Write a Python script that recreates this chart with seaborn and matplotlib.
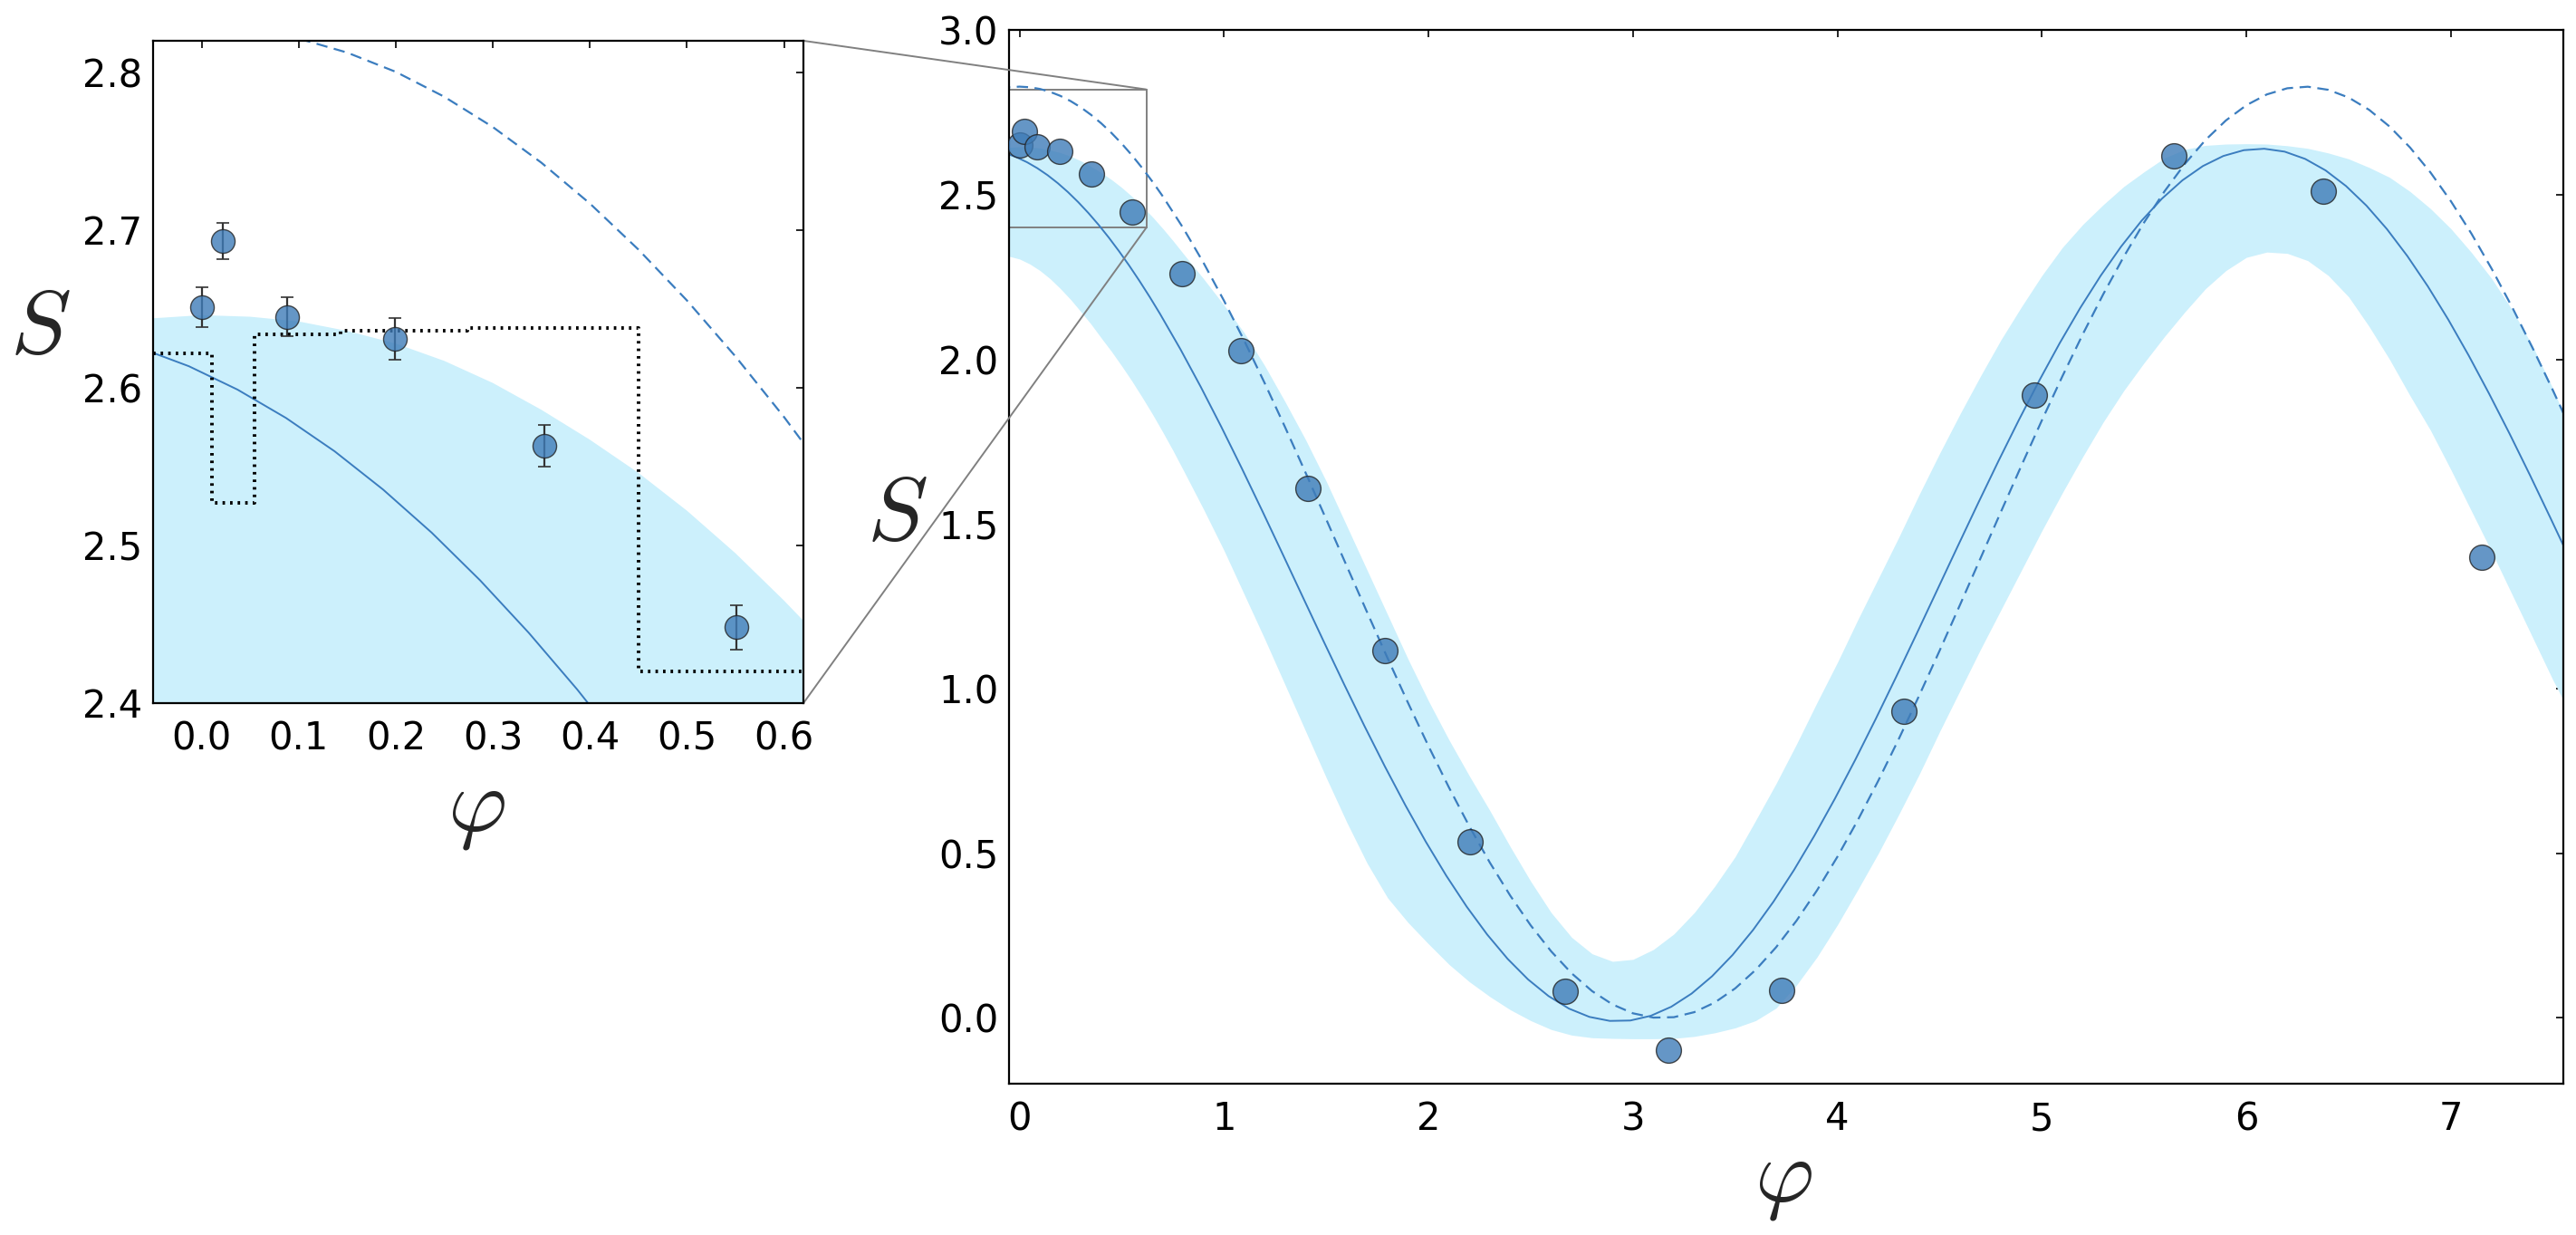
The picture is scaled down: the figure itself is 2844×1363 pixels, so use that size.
import numpy as np
import pandas as pd
import matplotlib
matplotlib.use("Agg")
import matplotlib.pyplot as plt
import seaborn as sns
from mpl_toolkits.axes_grid1.inset_locator import mark_inset

# ---------------- data ----------------
# measured points
phi_pts = [0.0, 0.022, 0.088, 0.199, 0.353, 0.551, 0.794, 1.081, 1.412, 1.786,
           2.204, 2.669, 3.175, 3.727, 4.326, 4.964, 5.647, 6.378, 7.151]
S_pts = [2.651, 2.693, 2.645, 2.631, 2.563, 2.448, 2.260, 2.026, 1.609, 1.115,
         0.536, 0.082, -0.098, 0.084, 0.932, 1.893, 2.617, 2.512, 1.400]
S_err = [0.0127, 0.0117, 0.0124, 0.0134, 0.0132, 0.0139, 0.013, 0.013, 0.013, 0.013,
         0.013, 0.013, 0.013, 0.013, 0.013, 0.013, 0.013, 0.013, 0.013]

# solid curve (fit), read along phi
solid_phi = [-0.113, -0.063, -0.013, 0.037, 0.087, 0.137, 0.187, 0.237, 0.287, 0.337,
             0.387, 0.437, 0.487, 0.537, 0.587, 0.637, 0.687, 0.787,
             0.887, 0.987, 1.087, 1.187, 1.287, 1.387, 1.487, 1.587, 1.687, 1.787,
             1.887, 1.987, 2.087, 2.187, 2.287, 2.387, 2.487, 2.587, 2.687, 2.787,
             2.887, 2.987, 3.087, 3.187, 3.287, 3.387, 3.487, 3.587, 3.687, 3.787,
             3.887, 3.987, 4.087, 4.187, 4.287, 4.387, 4.487, 4.587, 4.687, 4.787,
             4.887, 4.987, 5.087, 5.187, 5.287, 5.387, 5.487, 5.587, 5.687, 5.787,
             5.887, 5.987, 6.087, 6.187, 6.287, 6.387, 6.487, 6.587, 6.687, 6.787,
             6.887, 6.987, 7.087, 7.187, 7.287, 7.387, 7.487, 7.587]
solid_S = [2.6334, 2.6251, 2.6136, 2.5988, 2.5808, 2.5597, 2.5354, 2.5081, 2.4778,
           2.4446, 2.4086, 2.3698, 2.3284, 2.2845, 2.2381, 2.1895, 2.1386, 2.0309,
           1.9160, 1.7951, 1.6694, 1.5402, 1.4087, 1.2763, 1.1443, 1.0140,
           0.8866, 0.7636, 0.6461, 0.5352, 0.4322, 0.3380, 0.2535, 0.1796, 0.1171,
           0.0666, 0.0285, 0.0033, -0.0089, -0.0077, 0.0066, 0.0340, 0.0742, 0.1268,
           0.1913, 0.2670, 0.3531, 0.4489, 0.5534, 0.6654, 0.7839, 0.9078, 1.0357,
           1.1664, 1.2986, 1.4309, 1.5621, 1.6909, 1.8158, 1.9358, 2.0495, 2.1560,
           2.2540, 2.3426, 2.4210, 2.4883, 2.5439, 2.5872, 2.6178, 2.6354, 2.6398,
           2.6310, 2.6090, 2.5741, 2.5266, 2.4670, 2.3959, 2.3139, 2.2221, 2.1211,
           2.0119, 1.8957, 1.7743, 1.6481, 1.5182, 1.3865]

# dashed curve (ideal), read along phi
dashed_phi = [-0.1, -0.05, 0.0, 0.05, 0.1, 0.15, 0.2, 0.25, 0.3, 0.35, 0.4, 0.45,
              0.5, 0.55, 0.6, 0.65, 0.7, 0.8, 0.9, 1.0, 1.1, 1.2,
              1.3, 1.4, 1.5, 1.6, 1.7, 1.8, 1.9, 2.0, 2.1, 2.2, 2.3, 2.4, 2.5, 2.6,
              2.7, 2.8, 2.9, 3.0, 3.1, 3.2, 3.3, 3.4, 3.5, 3.6, 3.7, 3.8, 3.9, 4.0,
              4.1, 4.2, 4.3, 4.4, 4.5, 4.6, 4.7, 4.8, 4.9, 5.0, 5.1, 5.2, 5.3, 5.4,
              5.5, 5.6, 5.7, 5.8, 5.9, 6.0, 6.1, 6.2, 6.3, 6.4, 6.5, 6.6, 6.7, 6.8,
              6.9, 7.0, 7.1, 7.2, 7.3, 7.4, 7.5, 7.6]
dashed_S = [2.8214, 2.8266, 2.8284, 2.8266, 2.8214, 2.8125, 2.8003, 2.7845, 2.7653,
            2.7427, 2.7168, 2.6876, 2.6553, 2.6198, 2.5814, 2.5400, 2.4959,
            2.3995, 2.2933, 2.1783, 2.0557, 1.9267, 1.7925, 1.6546, 1.5143, 1.3729,
            1.2320, 1.0929, 0.9570, 0.8257, 0.7002, 0.5819, 0.4720, 0.3714, 0.2812,
            0.2024, 0.1357, 0.0817, 0.0411, 0.0142, 0.0012, 0.0024, 0.0177, 0.0470,
            0.0899, 0.1460, 0.2148, 0.2956, 0.3876, 0.4898, 0.6013, 0.7209, 0.8474,
            0.9796, 1.1161, 1.2556, 1.3967, 1.5380, 1.6780, 1.8154, 1.9488, 2.0768,
            2.1982, 2.3118, 2.4164, 2.5110, 2.5947, 2.6665, 2.7259, 2.7721, 2.8048,
            2.8235, 2.8282, 2.8188, 2.7953, 2.7580, 2.7073, 2.6437, 2.5679, 2.4804,
            2.3824, 2.2746, 2.1580, 2.0340, 1.9044, 1.7698]

# uncertainty band (upper / lower edge), read along phi
band_phi = [-0.05, 0.0, 0.05, 0.1, 0.15, 0.2, 0.25, 0.3, 0.35, 0.4, 0.45, 0.5, 0.55,
            0.6, 0.65, 0.7, 0.75, 0.8, 0.9, 1.0, 1.1, 1.2,
            1.3, 1.4, 1.5, 1.6, 1.7, 1.8, 1.9, 2.0, 2.1, 2.2, 2.3, 2.4, 2.5, 2.6,
            2.7, 2.8, 2.9, 3.0, 3.1, 3.2, 3.3, 3.4, 3.5, 3.6, 3.7, 3.8, 3.9, 4.0,
            4.1, 4.2, 4.3, 4.4, 4.5, 4.6, 4.7, 4.8, 4.9, 5.0, 5.1, 5.2, 5.3, 5.4,
            5.5, 5.6, 5.7, 5.8, 5.9, 6.0, 6.1, 6.2, 6.3, 6.4, 6.5, 6.6, 6.7, 6.8,
            6.9, 7.0, 7.1, 7.2, 7.3, 7.4, 7.5, 7.55]
band_hi = [2.644, 2.646, 2.645, 2.642, 2.636, 2.628, 2.617, 2.603, 2.586, 2.567,
           2.546, 2.522, 2.495, 2.465, 2.433, 2.398, 2.361, 2.322, 2.245, 2.165,
           2.080, 1.980, 1.870, 1.755, 1.630, 1.495, 1.360, 1.225,
           1.090, 0.963, 0.845, 0.735, 0.630, 0.520, 0.415, 0.320, 0.245, 0.195,
           0.172, 0.178, 0.208, 0.255, 0.320, 0.400, 0.490, 0.600, 0.712, 0.832,
           0.958, 1.080, 1.210, 1.335, 1.460, 1.590, 1.715, 1.835, 1.950, 2.060,
           2.160, 2.255, 2.340, 2.410, 2.470, 2.525, 2.570, 2.612, 2.638, 2.650,
           2.654, 2.655, 2.654, 2.649, 2.641, 2.627, 2.609, 2.583, 2.553, 2.510,
           2.458, 2.397, 2.325, 2.245, 2.150, 2.040, 1.910, 1.835]
band_lo = [2.313, 2.305, 2.290, 2.270, 2.245, 2.215, 2.182, 2.145, 2.107, 2.065,
           2.024, 1.980, 1.934, 1.885, 1.834, 1.780, 1.724, 1.665, 1.545, 1.420,
           1.285, 1.150, 1.010, 0.870, 0.730, 0.595, 0.470, 0.365,
           0.290, 0.225, 0.163, 0.110, 0.065, 0.025, -0.008, -0.035, -0.052, -0.060,
           -0.062, -0.063, -0.063, -0.062, -0.056, -0.045, -0.030, -0.008, 0.030,
           0.100, 0.185, 0.283, 0.390, 0.500, 0.618, 0.740, 0.870, 0.995, 1.120,
           1.240, 1.360, 1.480, 1.595, 1.705, 1.810, 1.905, 1.990, 2.070, 2.145,
           2.215, 2.270, 2.310, 2.326, 2.322, 2.300, 2.255, 2.190, 2.100, 2.000,
           1.890, 1.785, 1.665, 1.540, 1.415, 1.285, 1.155, 1.025, 0.965]

# step (binned) estimate shown in the inset
step_edges = [-0.05, 0.011, 0.055, 0.143, 0.274, 0.450, 0.62]
step_values = [2.622, 2.527, 2.634, 2.636, 2.638, 2.420, 2.420]

main_xticks = [0, 1, 2, 3, 4, 5, 6, 7]
main_yticks = [0.0, 0.5, 1.0, 1.5, 2.0, 2.5, 3.0]
ins_xticks = [0.0, 0.1, 0.2, 0.3, 0.4, 0.5, 0.6]
ins_yticks = [2.4, 2.5, 2.6, 2.7, 2.8]

# ---------------- style ----------------
sns.set_theme(style="white")
plt.rcParams["font.family"] = ["DejaVu Sans"]
plt.rcParams["mathtext.fontset"] = "cm"
plt.rcParams["lines.scale_dashes"] = False
plt.rcParams["axes.edgecolor"] = "black"
plt.rcParams["axes.linewidth"] = 0.8

LINE_C = "#3b7dbf"
PT_C = "#3f7cb8"
BAND_C = "#ccf0fc"

fig = plt.figure(figsize=(14.22, 6.815), dpi=200)
ax = fig.add_axes([0.3918, 0.1224, 0.6033, 0.8532])
axin = fig.add_axes([0.0594, 0.4307, 0.2525, 0.5363])

pts = pd.DataFrame({"phi": phi_pts, "S": S_pts, "err": S_err})
sol = pd.DataFrame({"phi": solid_phi, "S": solid_S})
das = pd.DataFrame({"phi": dashed_phi, "S": dashed_S})
stp = pd.DataFrame({"phi": step_edges, "S": step_values})

for a, ms in ((ax, 100), (axin, 88)):
    a.fill_between(band_phi, band_lo, band_hi, color=BAND_C, lw=0, zorder=1)
    sns.lineplot(data=sol, x="phi", y="S", ax=a, color=LINE_C, lw=0.7,
                 estimator=None, sort=False, zorder=2)
    sns.lineplot(data=das, x="phi", y="S", ax=a, color=LINE_C, lw=0.8,
                 linestyle=(0, (4.5, 2.6)), estimator=None, sort=False, zorder=2)
    if a is axin:
        sub = pts.iloc[:6]
        a.errorbar(sub["phi"], sub["S"], yerr=sub["err"], fmt="none",
                   ecolor="#333333", elinewidth=0.8, capsize=2.6, capthick=0.6,
                   zorder=4)
        sns.lineplot(data=stp, x="phi", y="S", ax=a, color="black", lw=1.4,
                     linestyle=(0, (1.0, 2.0)), drawstyle="steps-post",
                     estimator=None, sort=False, zorder=3)
    sns.scatterplot(data=pts, x="phi", y="S", ax=a, s=ms, color=PT_C, alpha=0.8,
                    edgecolor="#222222", linewidth=0.5, zorder=5)

ax.set_xlim(-0.05, 7.55)
ax.set_ylim(-0.2, 3.0)
ax.set_xticks(main_xticks)
ax.set_yticks(main_yticks)
ax.set_yticklabels([f"{v:.1f}" for v in main_yticks])

axin.set_xlim(-0.05, 0.62)
axin.set_ylim(2.4, 2.82)
axin.set_xticks(ins_xticks)
axin.set_xticklabels([f"{v:.1f}" for v in ins_xticks])
axin.set_yticks(ins_yticks)
axin.set_yticklabels([f"{v:.1f}" for v in ins_yticks])

for a in (ax, axin):
    a.tick_params(axis="both", which="major", direction="in", top=True, right=True,
                  length=3, width=0.6, labelsize=15, colors="black")
    a.tick_params(axis="x", pad=6.5)
    a.tick_params(axis="y", pad=4.2)
    for sp in a.spines.values():
        sp.set_color("black")
        sp.set_linewidth(0.8)
    a.set_xlabel(r"$\varphi$", fontsize=36, va="center", ha="center")
    a.set_ylabel(r"$S$", fontsize=36, rotation=0, va="center", ha="center")

ax.xaxis.set_label_coords(0.498, -0.09)
ax.yaxis.set_label_coords(-0.072, 0.54)
axin.xaxis.set_label_coords(0.497, -0.158)
axin.yaxis.set_label_coords(-0.173, 0.566)

mark_inset(ax, axin, loc1=1, loc2=4, fc="none", ec="0.5", lw=0.7)

fig.savefig("out.png", dpi=200)
